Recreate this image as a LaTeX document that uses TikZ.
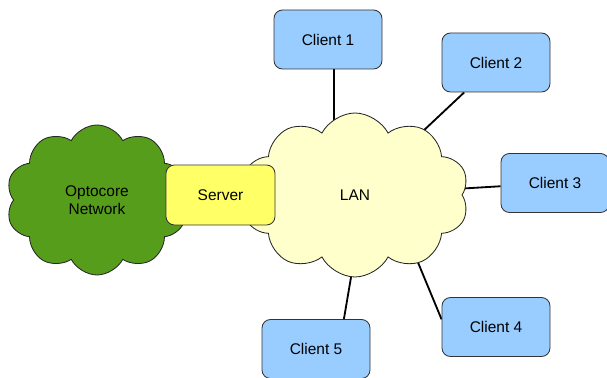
\documentclass[tikz,border=0pt]{standalone}
\usepackage{fontspec}
\setmainfont{Liberation Sans}
\usetikzlibrary{shapes.symbols, backgrounds, positioning}

\definecolor{cloudgreen}{HTML}{579D1C}
\definecolor{lanyellow}{HTML}{FFFFCC}
\definecolor{serveryellow}{HTML}{FFFF66}
\definecolor{clientblue}{HTML}{99CCFF}

\begin{document}
\begin{tikzpicture}[
    font=\fontsize{11}{13}\selectfont,
    client/.style={draw=black!80, line width=0.6pt, fill=clientblue, rounded corners=6pt, minimum width=2.7cm, minimum height=1.475cm},
    serverbox/.style={draw=black!80, line width=0.6pt, fill=serveryellow, rounded corners=6pt, minimum width=2.725cm, minimum height=1.5cm},
    netcloud/.style={cloud, cloud puffs=10, cloud puff arc=125, cloud ignores aspect, draw=black!85, line width=0.6pt, align=center},
    link/.style={line width=1.3pt, draw=black}
]
\useasboundingbox (0, 0) rectangle (15.175, 9.45);
% clouds
\node[netcloud, fill=cloudgreen, minimum width=4.55cm, minimum height=3.75cm] (opto) at (2.425, 4.45) {Optocore\\Network};
\node[netcloud, fill=lanyellow, minimum width=5.7cm, minimum height=4.1cm] (lan) at (8.875, 4.575) {LAN};
\node[serverbox] (server) at (5.5125, 4.575) {Server};
% clients
\node[client] (c1) at (8.2, 8.4625) {Client 1};
\node[client] (c2) at (12.4, 7.8875) {Client 2};
\node[client] (c3) at (13.875, 4.875) {Client 3};
\node[client] (c4) at (12.4, 1.275) {Client 4};
\node[client] (c5) at (7.9, 0.725) {Client 5};
% links behind the cloud
\begin{scope}[on background layer]
\draw[link] (c1.282) -- (c1.282 |- lan.center);
\draw[link] (c2) -- (lan.center);
\draw[link] (c3) -- (lan.center);
\draw[link] (c4.172) -- ([xshift=0.875cm]lan.center);
\draw[link] (c5.47) -- ([xshift=0.25cm]lan.center);
\end{scope}
\end{tikzpicture}
\end{document}
